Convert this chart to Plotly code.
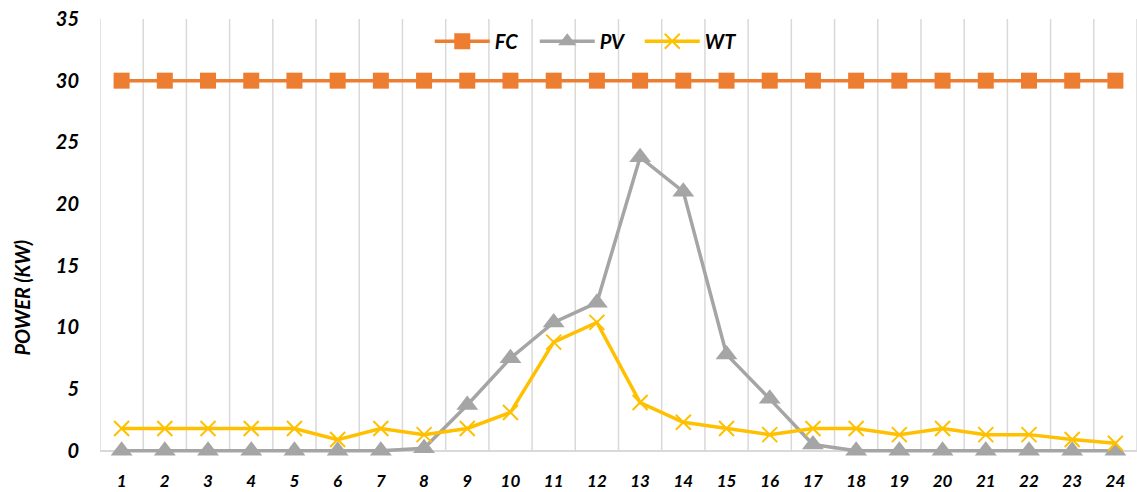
import plotly.graph_objects as go

hours = list(range(1, 25))
fc = [30] * 24
pv = [0, 0, 0, 0, 0, 0, 0, 0.2, 3.7, 7.5, 10.4, 12.0, 23.8, 21.0, 7.8, 4.2,
      0.5, 0, 0, 0, 0, 0, 0, 0]
wt = [1.8, 1.8, 1.8, 1.8, 1.8, 0.9, 1.8, 1.3, 1.8, 3.1, 8.8, 10.4, 3.9, 2.3,
      1.8, 1.3, 1.8, 1.8, 1.3, 1.8, 1.3, 1.3, 0.9, 0.6]
y_ticks = [0, 5, 10, 15, 20, 25, 30, 35]

FONT = "Lato"
GRID = "#d9d9d9"
Y_MAX = y_ticks[-1]

fig = go.Figure()
fig.add_trace(go.Scatter(
    x=hours, y=fc, name="FC", mode="lines+markers",
    line=dict(color="#ED7D31", width=3.5),
    marker=dict(symbol="square", size=16, color="#ED7D31")))
fig.add_trace(go.Scatter(
    x=hours, y=pv, name="PV", mode="lines+markers",
    line=dict(color="#A5A5A5", width=3.5),
    marker=dict(symbol="triangle-up", size=19, color="#A5A5A5")))
fig.add_trace(go.Scatter(
    x=hours, y=wt, name="WT", mode="lines+markers",
    line=dict(color="#FFC000", width=3.5),
    marker=dict(symbol="x-thin", size=15, color="#FFC000",
                line=dict(color="#FFC000", width=2))))

# vertical category-boundary gridlines (Excel style), from 0 up to the axis top
boundaries = [h - 0.5 for h in hours] + [hours[-1] + 0.5]
shapes = [dict(type="line", xref="x", yref="y", x0=b, x1=b, y0=0, y1=Y_MAX,
               line=dict(color=GRID, width=1.5), layer="below")
          for b in boundaries]

fig.update_layout(
    width=1137, height=492,
    margin=dict(l=100, r=0, t=19, b=29),
    paper_bgcolor="white", plot_bgcolor="white",
    font=dict(family=FONT, color="black"),
    showlegend=True,
    legend=dict(orientation="h", x=0.318, xanchor="left", y=0.95,
                yanchor="middle", bgcolor="rgba(0,0,0,0)",
                font=dict(family=FONT, size=20, color="black", weight="bold",
                          style="italic"),
                itemwidth=55, entrywidth=35, entrywidthmode="pixels",
                tracegroupgap=0),
    shapes=shapes,
    xaxis=dict(
        range=[0.5, 24.5], tickmode="array", tickvals=hours,
        ticktext=[f"<b><i>{h}</i></b>" for h in hours],
        tickfont=dict(family=FONT, size=17, color="black"),
        showgrid=False, zeroline=False, showline=False,
        ticks="", ticklabelstandoff=6,
    ),
    yaxis=dict(
        range=[-1, Y_MAX], tickmode="array", tickvals=y_ticks,
        ticktext=[f"<b><i>{v}</i></b>" for v in y_ticks],
        tickfont=dict(family=FONT, size=20, color="black"),
        showgrid=False, showline=False, ticks="",
        zeroline=True, zerolinecolor=GRID, zerolinewidth=1.5,
        ticklabelstandoff=20,
    ),
    annotations=[dict(
        text="<b><i>POWER (KW)</i></b>", textangle=-90,
        xref="paper", yref="paper", x=-0.075, y=0.373,
        xanchor="center", yanchor="middle", showarrow=False,
        font=dict(family=FONT, size=20, color="black"))],
)

fig.write_html("out.html")
